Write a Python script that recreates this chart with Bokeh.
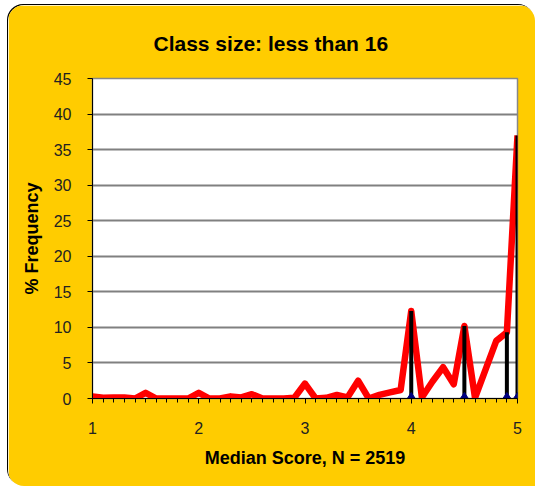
from bokeh.plotting import figure
from bokeh.models import Range1d, FixedTicker
from bokeh.embed import file_html
from bokeh.resources import INLINE

# Median score categories (0.1 steps)
scores = [1.0, 1.1, 1.2, 1.3, 1.4, 1.5, 1.6, 1.7, 1.8, 1.9,
          2.0, 2.1, 2.2, 2.3, 2.4, 2.5, 2.6, 2.7, 2.8, 2.9,
          3.0, 3.1, 3.2, 3.3, 3.4, 3.5, 3.6, 3.7, 3.8, 3.9,
          4.0, 4.1, 4.2, 4.3, 4.4, 4.5, 4.6, 4.7, 4.8, 4.9, 5.0]
# % frequency
freq = [0.3, 0.1, 0.15, 0.15, 0.0, 0.8, 0.0, 0.0, 0.0, 0.0,
        0.8, 0.0, 0.0, 0.3, 0.15, 0.6, 0.0, 0.0, 0.0, 0.1,
        2.1, 0.0, 0.1, 0.5, 0.15, 2.5, 0.0, 0.5, 0.85, 1.2,
        12.3, 0.15, 2.4, 4.4, 2.0, 10.2, 0.1, 4.1, 8.1, 9.3, 37.0]
# highlighted scores (black drop lines with markers)
bar_scores = [4.0, 4.5, 4.9, 5.0]
bar_freq = [12.3, 10.2, 9.3, 37.0]
bar_base = [0, 0, 0, 0]

x_ticks = [1, 2, 3, 4, 5]
y_ticks = [0, 5, 10, 15, 20, 25, 30, 35, 40, 45]

FONT = "Liberation Sans"
YELLOW = "#FFCC00"

p = figure(width=527, height=481,
           x_range=Range1d(1, 5), y_range=Range1d(0, 45),
           output_backend="svg", toolbar_location=None,
           min_border_left=84, min_border_right=18,
           min_border_top=73, min_border_bottom=88,
           background_fill_color="white", border_fill_color=YELLOW,
           outline_line_color="#888888", outline_line_width=1.5)

p.styles = {"border-radius": "16px 16px 0px 16px", "overflow": "hidden",
            "margin-left": "8px", "margin-top": "5px",
            "box-shadow": "-1px -1px 0px #000000"}

p.title.text = "Class size: less than 16"
p.title.align = "left"
p.title.offset = 61
p.title.standoff = 48
p.title.text_font = FONT
p.title.text_font_style = "bold"
p.title.text_font_size = "21px"
p.title.text_color = "black"

# grid
p.xgrid.visible = False
p.ygrid.ticker = FixedTicker(ticks=y_ticks)
p.ygrid.grid_line_color = "#808080"
p.ygrid.grid_line_width = 2

# axes
p.xaxis.ticker = FixedTicker(ticks=x_ticks, minor_ticks=scores)
p.yaxis.ticker = FixedTicker(ticks=y_ticks)
for ax in (p.xaxis[0], p.yaxis[0]):
    ax.axis_line_color = "black"
    ax.axis_line_width = 1
    ax.major_tick_line_color = "black"
    ax.major_tick_in = 0
    ax.major_tick_out = 5
    ax.major_label_text_font = FONT
    ax.major_label_text_font_size = "16px"
    ax.major_label_text_color = "#222222"
    ax.axis_label_text_font = FONT
    ax.axis_label_text_font_style = "bold"
    ax.axis_label_text_font_size = "18px"
    ax.axis_label_text_color = "black"

p.xaxis.minor_tick_line_color = "black"
p.xaxis.minor_tick_in = 0
p.xaxis.minor_tick_out = 4
p.yaxis.minor_tick_line_color = None
p.xaxis.major_label_standoff = 18
p.yaxis.major_label_standoff = 16
p.xaxis.axis_label = "Median Score, N = 2519"
p.yaxis.axis_label = "% Frequency"
p.xaxis.axis_label_standoff = 11
p.yaxis.axis_label_standoff = 9

# data
p.line(scores, freq, line_color="#FF0000", line_width=6.5, line_join="round")
p.segment(x0=bar_scores, y0=bar_base, x1=bar_scores, y1=bar_freq,
          line_color="black", line_width=4)
p.scatter(bar_scores, bar_base, marker="diamond", size=12,
          fill_color="#000080", line_color="#000080")

open("out.html", "w").write(file_html(p, INLINE))
